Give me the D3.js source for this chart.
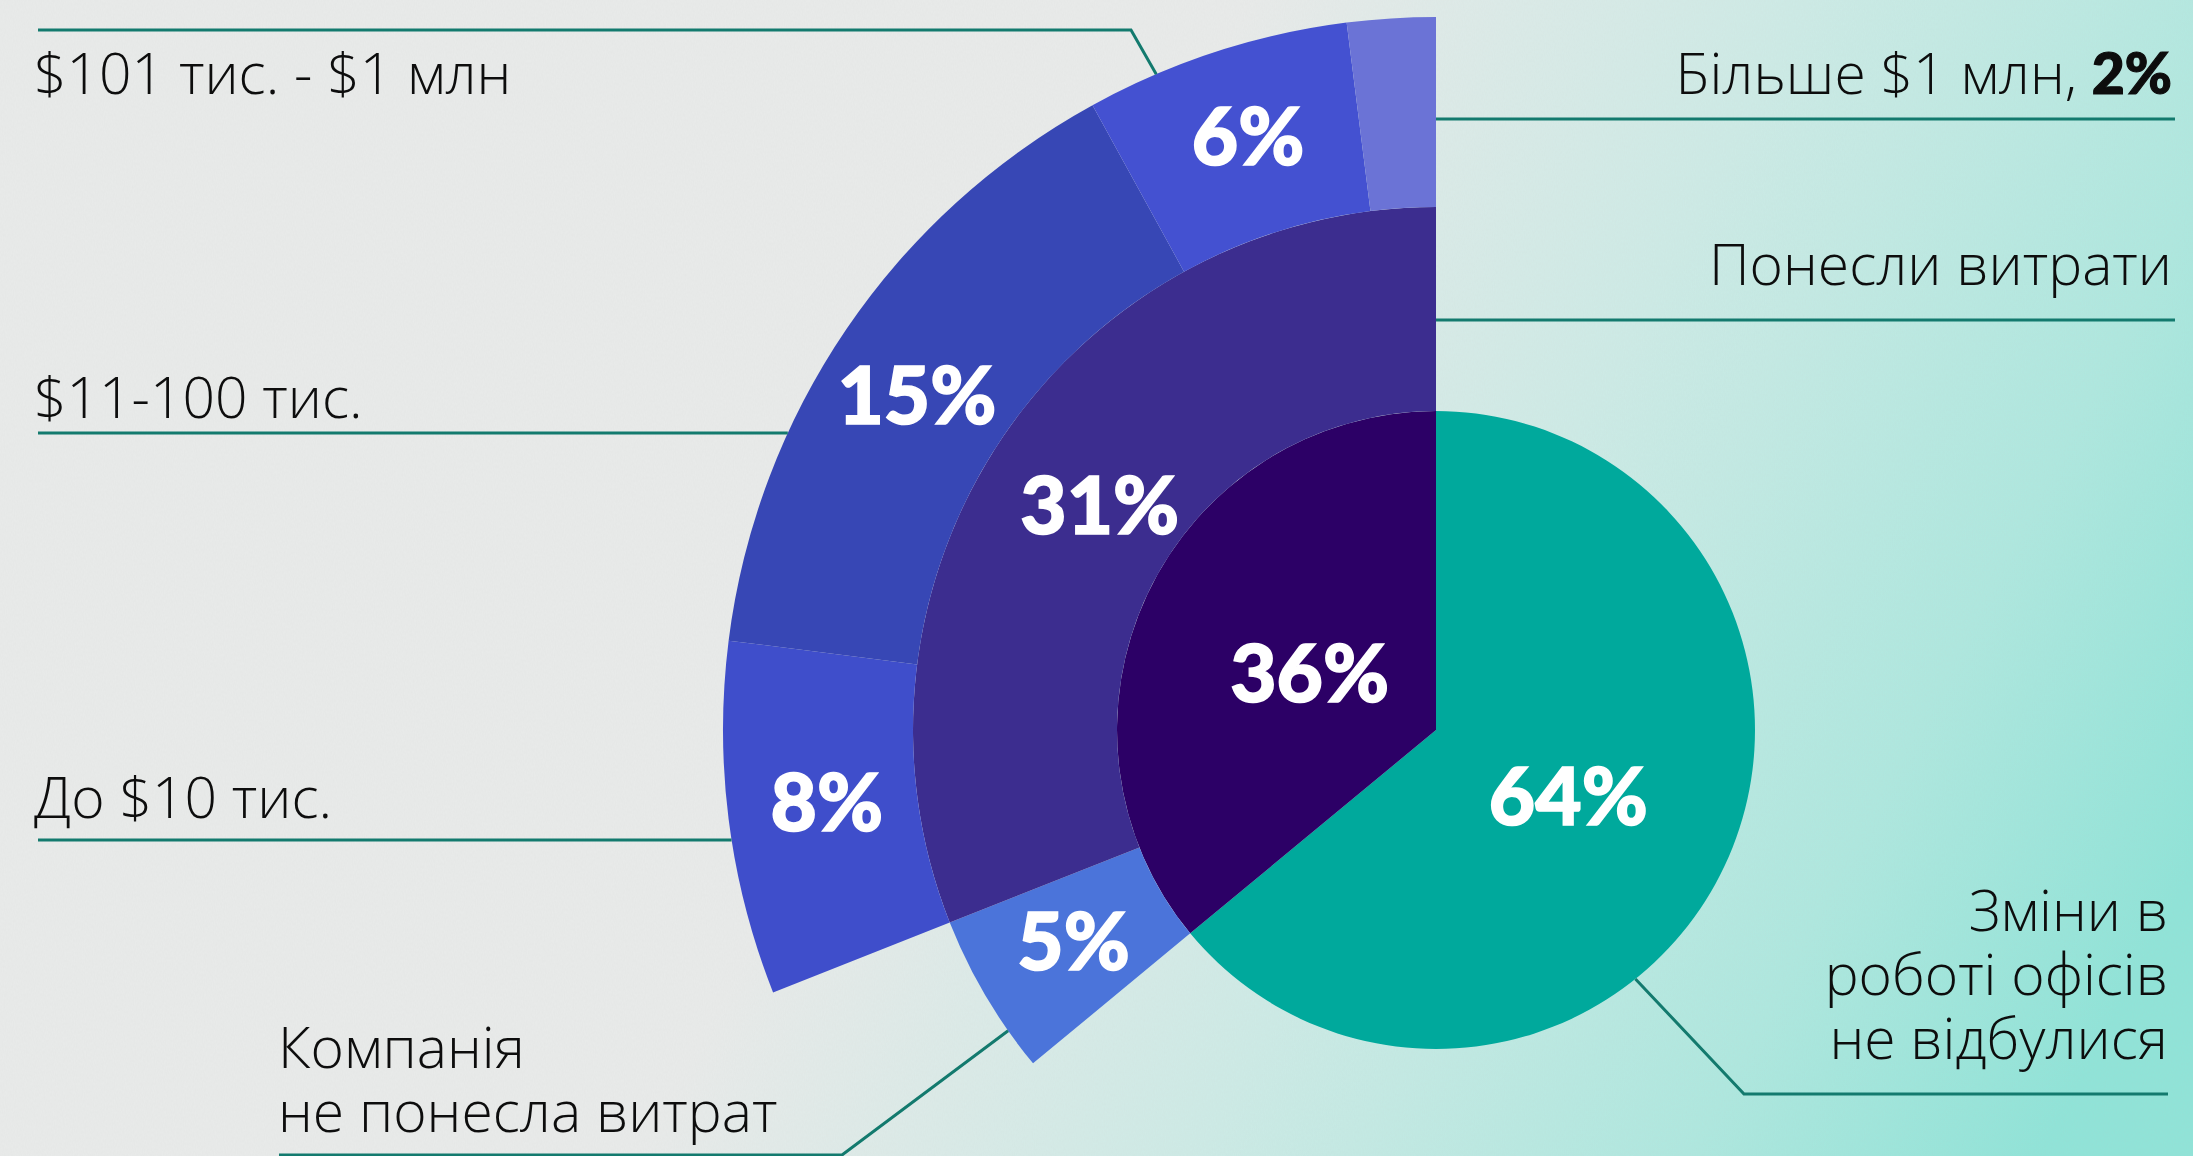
<!DOCTYPE html>
<html>
<head>
<meta charset="utf-8">
<script src="https://cdn.jsdelivr.net/npm/d3@7"></script>
<style>
  body { margin: 0; background: #ebebea; }
  svg { display: block; }
</style>
</head>
<body>
<div id="chart"></div>
<script>
// values (percent of all companies)
var coreNames = ["Зміни в роботі офісів не відбулися", "Зміни відбулися"];
var coreValues = [64, 36];
var coreColors = ["#00a99c", "#2c0066"];

var costNames = ["Компанія не понесла витрат", "Понесли витрати"];
var costValues = [5, 31];
var costColors = ["#4b74da", "#3c2d8f"];

var amountNames = ["До $10 тис.", "$11-100 тис.", "$101 тис. - $1 млн", "Більше $1 млн"];
var amountValues = [8, 15, 6, 2];
var amountColors = ["#3f4ecb", "#3747b5", "#4451d1", "#6b73d6"];

var w = 2193, h = 1156;
var cx = 1436, cy = 730;
var radii = [0, 319, 523, 713];		// ring edges
var labelFont = "'Open Sans', sans-serif";
var numFont = "Lato, 'Open Sans', sans-serif";

var svg = d3.select("#chart").append("svg")
	.attr("width", w)
	.attr("height", h);

// background: grey on the left, going to light teal in the lower right
var defs = svg.append("defs");
var grad = defs.append("linearGradient")
	.attr("id", "bg")
	.attr("gradientUnits", "userSpaceOnUse")
	.attr("x1", 1096).attr("y1", 289)
	.attr("x2", 2193).attr("y2", 867);
grad.append("stop").attr("offset", 0).attr("stop-color", "#e9ebea");
grad.append("stop").attr("offset", 0.4).attr("stop-color", "#cdebe6");
grad.append("stop").attr("offset", 0.75).attr("stop-color", "#aee8df");
grad.append("stop").attr("offset", 1).attr("stop-color", "#8fe4d8");

var noise = defs.append("filter").attr("id", "noise")
	.attr("x", 0).attr("y", 0).attr("width", "100%").attr("height", "100%");
noise.append("feTurbulence").attr("type", "fractalNoise")
	.attr("baseFrequency", "0.9 0.35").attr("numOctaves", 2).attr("seed", 3);
noise.append("feColorMatrix").attr("type", "matrix")
	.attr("values", "0 0 0 0 0.5  0 0 0 0 0.5  0 0 0 0 0.5  0 0 0 0.09 0");

svg.append("rect").attr("width", w).attr("height", h).attr("fill", "url(#bg)");
svg.append("rect").attr("width", w).attr("height", h).attr("filter", "url(#noise)");

// percent -> angle, clockwise from 12 o'clock
var angle = d3.scaleLinear().domain([0, 100]).range([0, 2 * Math.PI]);

var g = svg.append("g").attr("transform", "translate(" + cx + "," + cy + ")");

// build each ring: the cost ring sits over the 36% slice, the amount ring over the 31% slice
// nudge = small shift of the value label off the slice centroid
var rings = [
	{ values: coreValues, colors: coreColors, start: 0, level: 0,
		nudge: [[-12, -3], [18, 10]] },
	{ values: costValues, colors: costColors, start: coreValues[0], level: 1,
		nudge: [[0, -5], [12, 10]] },
	{ values: amountValues, colors: amountColors, start: coreValues[0] + costValues[0], level: 2,
		nudge: [[4, -7], [-8, 11], [3, -8], [0, 0]] }
];

rings.forEach(function(ring) {
	var total = d3.sum(ring.values);
	var pie = d3.pie().sort(null).value(function(d) { return d; })
		.startAngle(angle(ring.start))
		.endAngle(angle(ring.start + total));
	var arc = d3.arc()
		.innerRadius(radii[ring.level])
		.outerRadius(radii[ring.level + 1]);
	var slices = g.selectAll(".arc_" + ring.level)
		.data(pie(ring.values))
		.enter().append("g")
		.attr("class", "arc_" + ring.level);
	slices.append("path")
		.attr("d", arc)
		.attr("fill", function(d, i) { return ring.colors[i]; });
	// the smallest slice carries its value in the outside label instead
	slices.filter(function(d) { return d.data >= 5; })
		.append("text")
		.attr("transform", function(d) {
			var c = arc.centroid(d), n = ring.nudge[d.index];
			return "translate(" + (c[0] + n[0]) + "," + (c[1] + n[1]) + ")";
		})
		.attr("text-anchor", "middle")
		.attr("dy", "0.38em")
		.attr("font-family", numFont)
		.attr("font-weight", 900)
		.attr("font-size", 80)
		.attr("fill", "#ffffff")
		.attr("stroke", "#ffffff")
		.attr("stroke-width", 1.6)
		.text(function(d) { return d.data + "%"; });
});

// leader lines
function onCircle(r, y) {
	// left-hand point of ring edge r at height y
	var dy = y - cy;
	return cx - Math.sqrt(r * r - dy * dy);
}
function polar(r, deg) {
	var a = deg * Math.PI / 180;
	return [cx + r * Math.sin(a), cy - r * Math.cos(a)];
}

var lines = [
	[[38, 30], [1131, 30], polar(radii[3], 336.9)],
	[[38, 433], [onCircle(radii[3], 433), 433]],
	[[38, 840], [onCircle(radii[3], 840), 840]],
	[[279, 1155], [842, 1155], polar(radii[2], 234.9)],
	[[cx, 119], [2175, 119]],
	[[cx, 320], [2175, 320]],
	[polar(radii[1], 141.3), [1744, 1094], [2168, 1094]]
];
svg.selectAll(".leader")
	.data(lines)
	.enter().append("path")
	.attr("class", "leader")
	.attr("d", d3.line())
	.attr("fill", "none")
	.attr("stroke", "#137a6e")
	.attr("stroke-width", 3);

// outside labels, one text per line
var labels = [
	{ lines: [amountNames[2]], x: 34, y: 94, anchor: "start" },
	{ lines: [amountNames[1]], x: 34, y: 418, anchor: "start" },
	{ lines: [amountNames[0]], x: 34, y: 818, anchor: "start" },
	{ lines: ["Компанія", "не понесла витрат"], x: 278, y: 1068, anchor: "start" },
	{ lines: [costNames[1]], x: 2172, y: 285, anchor: "end" },
	{ lines: ["Зміни в", "роботі офісів", "не відбулися"], x: 2168, y: 931, anchor: "end" }
];
labels.forEach(function(l) {
	l.lines.forEach(function(s, i) {
		svg.append("text")
			.attr("x", l.x).attr("y", l.y + i * 64)
			.attr("text-anchor", l.anchor)
			.attr("font-family", labelFont)
			.attr("font-weight", 300)
			.attr("font-size", 57)
			.attr("fill", "#0d0d0d")
			.text(s);
	});
});

// the 2% slice is labelled together with its name
var bigLabel = svg.append("text")
	.attr("x", 2172).attr("y", 94)
	.attr("text-anchor", "end")
	.attr("font-family", labelFont)
	.attr("font-weight", 300)
	.attr("font-size", 57)
	.attr("fill", "#0d0d0d");
bigLabel.append("tspan").text(amountNames[3] + ", ");
bigLabel.append("tspan")
	.attr("font-family", numFont)
	.attr("font-weight", 900)
	.attr("stroke", "#0d0d0d")
	.attr("stroke-width", 1.2)
	.text(amountValues[3] + "%");
</script>
</body>
</html>
